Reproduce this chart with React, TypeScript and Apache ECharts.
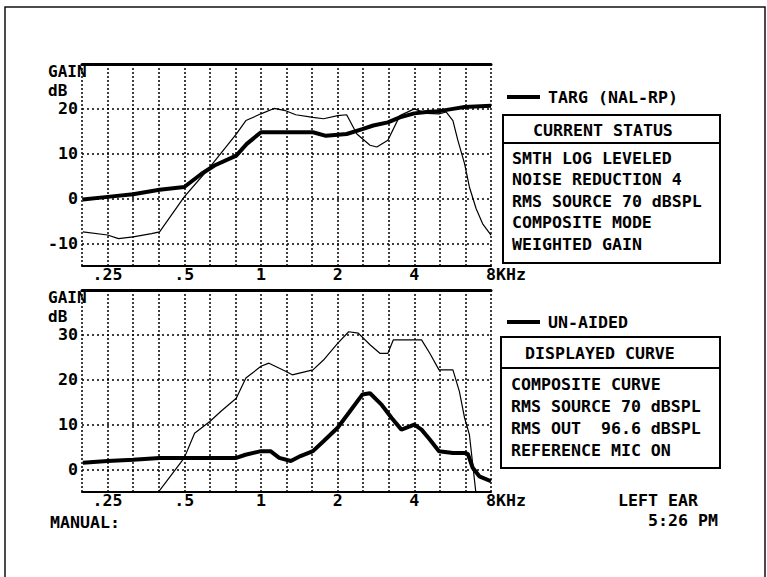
import React, { useEffect, useRef } from "react";
import * as echarts from "echarts";

const FONT = "'DejaVu Sans Mono', 'Liberation Mono', monospace";
const FS = 16.6;
const FW = "bold";

// x axis in third-octave steps: x = 3*log2(f kHz); 0.2 kHz -> -7, 8 kHz -> 9
const X_MIN = -7;
const X_MAX = 9;
const xLabelSteps = [-6, -3, 0, 3, 6, 9];
const xLabelTexts = [".25", ".5", "1", "2", "4", "8KHz"];

const topYLabels = [-10, 0, 10, 20];
const bottomYLabels = [0, 10, 20, 30];

// top panel: target (thick)
const targFreq = [0.2, 0.25, 0.315, 0.4, 0.5, 0.583, 0.657, 0.8, 0.88, 1.0, 1.6, 1.8, 2.17, 2.5, 2.76, 3.15, 3.51, 4.0, 4.46, 5.0, 5.67, 6.3, 8.0];
const targGain = [-0.2, 0.4, 1.0, 2.0, 2.6, 5.5, 7.4, 9.6, 12.2, 14.8, 14.8, 14.0, 14.4, 15.5, 16.3, 17.0, 18.1, 19.0, 19.3, 19.5, 20.0, 20.4, 20.7];

// top panel: measured gain (thin)
const measFreq = [0.2, 0.25, 0.276, 0.315, 0.372, 0.4, 0.5, 0.63, 0.8, 0.873, 1.0, 1.125, 1.25, 1.37, 1.6, 1.76, 2.0, 2.17, 2.38, 2.68, 2.85, 3.15, 3.51, 4.0, 4.46, 5.0, 5.34, 5.67, 5.93, 6.3, 6.58, 6.99, 7.42, 8.0];
const measGain = [-7.4, -8.1, -8.9, -8.5, -7.8, -7.4, 0.4, 7.0, 14.4, 17.4, 18.9, 20.1, 19.6, 18.7, 18.1, 17.8, 18.5, 18.7, 14.4, 11.9, 11.5, 13.0, 18.5, 20.0, 19.0, 18.9, 19.3, 17.4, 13.0, 7.8, 2.6, -2.2, -5.6, -8.1];

// bottom panel: un-aided (thick)
const unaidFreq = [0.2, 0.25, 0.315, 0.4, 0.5, 0.63, 0.8, 0.87, 1.0, 1.09, 1.18, 1.31, 1.43, 1.6, 1.76, 2.0, 2.21, 2.5, 2.68, 2.98, 3.26, 3.56, 4.0, 4.27, 4.6, 5.0, 5.67, 6.3, 6.49, 6.78, 7.2, 8.0];
const unaidGain = [1.5, 1.9, 2.2, 2.6, 2.6, 2.6, 2.6, 3.3, 4.1, 4.1, 2.6, 1.9, 3.0, 4.1, 6.3, 9.3, 12.6, 16.7, 17.0, 14.4, 11.5, 8.9, 10.0, 8.9, 6.7, 4.1, 3.7, 3.7, 3.5, 0.4, -1.5, -2.6];

// bottom panel: aided (thin)
const aidFreq = [0.39, 0.5, 0.549, 0.63, 0.697, 0.8, 0.873, 1.0, 1.075, 1.25, 1.327, 1.6, 1.76, 2.0, 2.21, 2.41, 2.68, 2.93, 3.15, 3.31, 3.56, 4.0, 4.27, 4.6, 5.0, 5.67, 6.01, 6.3, 6.58, 6.99];
const aidGain = [-5.5, 2.6, 8.1, 10.7, 13.0, 15.9, 20.4, 23.0, 23.7, 21.9, 21.1, 22.2, 24.4, 28.1, 30.7, 30.4, 27.8, 25.9, 25.9, 28.9, 28.9, 28.9, 28.9, 25.9, 22.2, 22.2, 17.4, 11.5, 7.8, -5.5];

const statusLines = ["SMTH LOG LEVELED", "NOISE REDUCTION 4", "RMS SOURCE 70 dBSPL", "COMPOSITE MODE", "WEIGHTED GAIN"];
const curveLines = ["COMPOSITE CURVE", "RMS SOURCE 70 dBSPL", "RMS OUT  96.6 dBSPL", "REFERENCE MIC ON"];

const toPts = (f: number[], g: number[]) => f.map((v, i) => [3 * Math.log2(v), g[i]]);

const GRID_LEFT = 82;
const GRID_W = 409;
const GRID_H = 202;
const TOP1 = 64;
const TOP2 = 290;

function xAxes(gridIndex: number) {
  return [
    {
      type: "value",
      gridIndex,
      position: "bottom",
      min: X_MIN,
      max: X_MAX,
      interval: 1,
      axisLine: { show: true, onZero: false, lineStyle: { color: "#000", width: 2 } },
      axisTick: { show: false },
      splitLine: { show: true, lineStyle: { color: "#000", width: 1.5, type: [2, 2] } },
      axisLabel: {
        margin: 0,
        color: "#000",
        fontFamily: FONT,
        fontSize: FS,
        fontWeight: FW,
        formatter: (v: number) => {
          const i = xLabelSteps.indexOf(Math.round(v));
          if (i < 0) return "";
          if (i === xLabelSteps.length - 1) return "{p| }{a|" + xLabelTexts[i] + "}";
          return xLabelTexts[i];
        },
        rich: {
          p: { width: 30, fontFamily: FONT, fontSize: FS, fontWeight: FW },
          a: { fontFamily: FONT, fontSize: FS, fontWeight: FW, color: "#000" },
        },
      },
    },
    {
      type: "value",
      gridIndex,
      position: "top",
      min: X_MIN,
      max: X_MAX,
      interval: 1,
      axisLine: { show: true, onZero: false, lineStyle: { color: "#000", width: 3 } },
      axisTick: { show: false },
      axisLabel: { show: false },
      splitLine: { show: false },
    },
  ];
}

function yAxis(gridIndex: number, min: number, max: number, labels: number[]) {
  return {
    type: "value",
    gridIndex,
    min,
    max,
    interval: 5,
    axisLine: { show: false },
    axisTick: { show: false },
    splitLine: { show: false },
    axisLabel: {
      margin: 4,
      color: "#000",
      fontFamily: FONT,
      fontSize: FS,
      fontWeight: FW,
      formatter: (v: number) => (labels.indexOf(Math.round(v)) >= 0 ? String(Math.round(v)) : ""),
    },
  };
}

function gridMarks(vals: number[]) {
  return {
    silent: true,
    symbol: ["none", "none"],
    label: { show: false },
    lineStyle: { color: "#000", width: 1.5, type: [2, 3] },
    data: vals.map((v) => ({ yAxis: v })),
  };
}

function txt(text: string, x: number, y: number, size = FS) {
  return {
    type: "text",
    silent: true,
    style: { text, x, y, fill: "#000", fontFamily: FONT, fontSize: size, fontWeight: FW, align: "left", verticalAlign: "middle" },
  };
}

export default function App() {
  const ref = useRef<HTMLDivElement>(null);
  useEffect(() => {
    if (!ref.current) return;
    const chart = echarts.init(ref.current, null, { renderer: "svg" });
    const legendCommon = {
      orient: "horizontal",
      padding: 0,
      itemGap: 0,
      itemWidth: 33,
      itemHeight: 4,
      icon: "rect",
      selectedMode: false,
      textStyle: { color: "#000", fontFamily: FONT, fontSize: FS, fontWeight: FW, padding: [0, 0, 0, 3] },
    };
    const graphics: any[] = [
      { type: "rect", silent: true, shape: { x: 5, y: 7, width: 760, height: 620 }, style: { fill: "none", stroke: "#111", lineWidth: 1.5 } },
      txt("GAIN", 48, TOP1 + 7, 16),
      txt("dB", 48, TOP1 + 26, 16),
      txt("GAIN", 48, TOP2 + 7, 16),
      txt("dB", 48, TOP2 + 26, 16),
      // status box
      { type: "rect", silent: true, shape: { x: 503, y: 115, width: 217, height: 148 }, style: { fill: "#fff", stroke: "#000", lineWidth: 2 } },
      { type: "line", silent: true, shape: { x1: 503, y1: 143, x2: 720, y2: 143 }, style: { stroke: "#000", lineWidth: 2 } },
      txt("CURRENT STATUS", 533, 130),
      ...statusLines.map((s, i) => txt(s, 512, 158 + i * 21.6)),
      // curve box
      { type: "rect", silent: true, shape: { x: 501, y: 337, width: 219, height: 131 }, style: { fill: "#fff", stroke: "#000", lineWidth: 2 } },
      { type: "line", silent: true, shape: { x1: 501, y1: 368, x2: 720, y2: 368 }, style: { stroke: "#000", lineWidth: 2 } },
      txt("DISPLAYED CURVE", 525, 353),
      ...curveLines.map((s, i) => txt(s, 511, 384 + i * 22)),
      txt("LEFT EAR", 618, 500),
      txt("5:26 PM", 648, 520),
      txt("MANUAL:", 50, 522),
    ];
    chart.setOption({
      animation: false,
      backgroundColor: "#fff",
      grid: [
        { left: GRID_LEFT, top: TOP1, width: GRID_W, height: GRID_H, containLabel: false, outerBoundsMode: "none" },
        { left: GRID_LEFT, top: TOP2, width: GRID_W, height: GRID_H, containLabel: false, outerBoundsMode: "none" },
      ],
      xAxis: [...xAxes(0), ...xAxes(1)],
      yAxis: [yAxis(0, -15, 30, topYLabels), yAxis(1, -5, 40, bottomYLabels)],
      legend: [
        { ...legendCommon, left: 507, top: 88.5, data: ["TARG (NAL-RP)"] },
        { ...legendCommon, left: 507, top: 313.5, data: ["UN-AIDED"] },
      ],
      series: [
        {
          name: "MEASURED GAIN",
          type: "line",
          xAxisIndex: 0,
          yAxisIndex: 0,
          data: toPts(measFreq, measGain),
          symbol: "none",
          color: "#000",
          lineStyle: { color: "#000", width: 1.2 },
          markLine: gridMarks(topYLabels),
          z: 2,
        },
        {
          name: "TARG (NAL-RP)",
          type: "line",
          xAxisIndex: 0,
          yAxisIndex: 0,
          data: toPts(targFreq, targGain),
          symbol: "none",
          color: "#000",
          lineStyle: { color: "#000", width: 4 },
          z: 3,
        },
        {
          name: "AIDED",
          type: "line",
          xAxisIndex: 2,
          yAxisIndex: 1,
          data: toPts(aidFreq, aidGain),
          symbol: "none",
          color: "#000",
          lineStyle: { color: "#000", width: 1.2 },
          markLine: gridMarks(bottomYLabels),
          z: 2,
        },
        {
          name: "UN-AIDED",
          type: "line",
          xAxisIndex: 2,
          yAxisIndex: 1,
          data: toPts(unaidFreq, unaidGain),
          symbol: "none",
          color: "#000",
          lineStyle: { color: "#000", width: 4 },
          z: 3,
        },
      ],
      graphic: graphics,
    });
    return () => chart.dispose();
  }, []);
  return <div ref={ref} style={{ position: "fixed", left: 0, top: 0, width: 767, height: 577, background: "#fff" }} />;
}
